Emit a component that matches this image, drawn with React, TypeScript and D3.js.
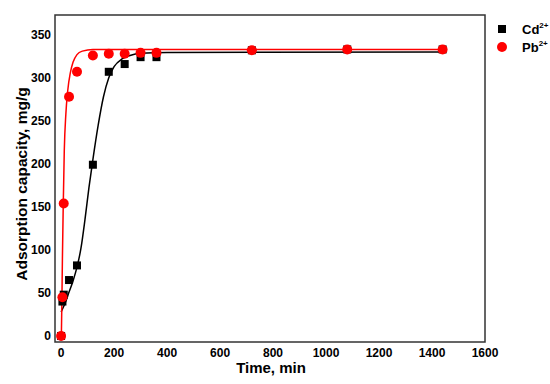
import React from "react";
import * as d3 from "d3";

// measured time points (min)
const times = [0, 5, 10, 30, 60, 120, 180, 240, 300, 360, 720, 1080, 1440];
const cdValues = [0, 40, 48, 65, 82, 199, 307, 316, 324, 324, 332, 333, 333];
const pbValues = [0, 45, 154, 278, 307, 326, 328, 328, 329, 329, 332, 333, 333];

// fitted curves
const cdFitT = [0, 15, 30, 45, 60, 75, 90, 105, 120, 140, 160, 180, 200, 230, 260, 300, 400, 1440];
const cdFitY = [28, 38, 51, 64, 80, 102, 135, 172, 205, 245, 278, 300, 313, 322, 326, 328.5, 329.5, 330];
const pbFitT = [1, 3, 5, 8, 12, 18, 25, 35, 45, 60, 80, 120, 1440];
const pbFitY = [0, 40, 90, 150, 215, 258, 285, 306, 318, 327, 331, 333, 333];

const xTicks = [0, 200, 400, 600, 800, 1000, 1200, 1400, 1600];
const yTicks = [0, 50, 100, 150, 200, 250, 300, 350];

export default function App() {
  const width = 550;
  const height = 384;
  const left = 55, right = 485, top = 15, bottom = 342;

  const x = d3.scaleLinear().domain([-23, 1600]).range([left, right]);
  const y = d3.scaleLinear().domain([-7, 373]).range([bottom, top]);

  const line = d3.line<[number, number]>()
    .x(d => x(d[0]))
    .y(d => y(d[1]))
    .curve(d3.curveMonotoneX);

  const cdFit = cdFitT.map((t, i) => [t, cdFitY[i]] as [number, number]);
  const pbFit = pbFitT.map((t, i) => [t, pbFitY[i]] as [number, number]);

  const font = "'Liberation Sans', Arial, sans-serif";

  return (
    <svg width={width} height={height} style={{ position: "absolute", left: 0, top: 0 }} fontFamily={font}>
      <rect width={width} height={height} fill="white" />
      <path d={line(cdFit) || ""} fill="none" stroke="black" strokeWidth={1.5} />
      <path d={line(pbFit) || ""} fill="none" stroke="#ff0000" strokeWidth={1.5} />

      {times.map((t, i) => (
        <rect key={"cd" + i} x={x(t) - 4} y={y(cdValues[i]) - 4} width={8} height={8} fill="black" />
      ))}
      {times.map((t, i) => (
        <circle key={"pb" + i} cx={x(t)} cy={y(pbValues[i])} r={5} fill="#ff0000" />
      ))}

      <rect x={left} y={top} width={right - left} height={bottom - top} fill="none" stroke="#333" strokeWidth={1.5} />

      {xTicks.map(t => (
        <text key={"x" + t} x={x(t)} y={bottom + 15} fontSize={12} fontWeight="bold" textAnchor="middle">{t}</text>
      ))}
      {yTicks.map(t => (
        <text key={"y" + t} x={left - 4} y={y(t) + 4} fontSize={12} fontWeight="bold" textAnchor="end">{t}</text>
      ))}

      <text x={271} y={373} fontSize={15} fontWeight="bold" textAnchor="middle">Time, min</text>
      <text transform="translate(27,184) rotate(-90)" fontSize={15.5} fontWeight="bold" textAnchor="middle">
        Adsorption capacity, mg/g
      </text>

      <rect x={498} y={25} width={8} height={8} fill="black" />
      <text x={522} y={34} fontSize={13} fontWeight="bold">Cd<tspan fontSize={8} dy={-6}>2+</tspan></text>
      <circle cx={502} cy={47} r={5} fill="#ff0000" />
      <text x={522} y={52} fontSize={13} fontWeight="bold">Pb<tspan fontSize={8} dy={-6}>2+</tspan></text>
    </svg>
  );
}
